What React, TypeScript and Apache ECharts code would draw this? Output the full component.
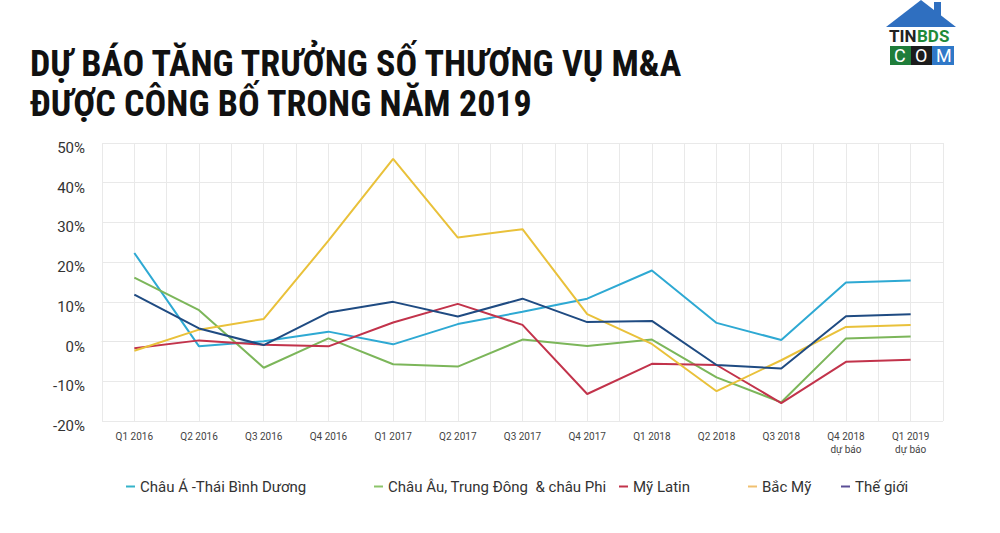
import React, { useEffect, useRef } from "react";
import * as echarts from "echarts";

const categories = [
  "Q1 2016", "Q2 2016", "Q3 2016", "Q4 2016", "Q1 2017", "Q2 2017", "Q3 2017",
  "Q4 2017", "Q1 2018", "Q2 2018", "Q3 2018", "Q4 2018\ndự báo", "Q1 2019\ndự báo",
];
const halfCategories = categories.flatMap((c) => [c + " a", c + " b"]);
const yTicks = [-20, -10, 0, 10, 20, 30, 40, 50];

const asiaPacific = [22.3, -1.2, 0.1, 2.5, -0.7, 4.4, 7.5, 10.8, 17.9, 4.7, 0.4, 14.9, 15.4];
const europeMEA = [16.1, 7.9, -6.6, 0.8, -5.7, -6.3, 0.5, -1.1, 0.5, -9.0, -15.3, 0.8, 1.3];
const latinAmerica = [-1.7, 0.3, -0.8, -1.2, 4.8, 9.5, 4.2, -13.2, -5.6, -5.9, -15.5, -5.1, -4.6];
const northAmerica = [-2.3, 3.0, 5.7, 25.4, 46.0, 26.2, 28.3, 6.9, -0.6, -12.5, -4.7, 3.7, 4.2];
const world = [11.8, 3.3, -0.9, 7.3, 10.0, 6.3, 10.8, 4.9, 5.2, -5.9, -6.8, 6.4, 6.9];

const seriesNames = [
  "Châu Á -Thái Bình Dương",
  "Châu Âu, Trung Đông  & châu Phi",
  "Mỹ Latin",
  "Bắc Mỹ",
  "Thế giới",
];
const seriesData = [asiaPacific, europeMEA, latinAmerica, northAmerica, world];
const lineColors = ["#2ea9d3", "#7cb65a", "#c2334b", "#e9c13a", "#1f4b82"];
const legendColors = ["#35b3c9", "#8cc46a", "#c2334b", "#f0c070", "#5b4e96"];
const legendLeft = [121, 369, 614, 743, 836];

export default function App() {
  const ref = useRef<HTMLDivElement>(null);
  useEffect(() => {
    if (!ref.current) return;
    const chart = echarts.init(ref.current, null, { renderer: "svg" });
    const titleFont = "'Liberation Sans Narrow', 'Roboto Condensed', Roboto, sans-serif";
    chart.setOption({
      animation: false,
      backgroundColor: "#ffffff",
      textStyle: { fontFamily: "Roboto, sans-serif" },
      grid: { left: 102, right: 57, top: 143, bottom: 112, containLabel: false },
      legend: seriesNames.map((n, i) => ({
        data: [{ name: n, itemStyle: { color: legendColors[i] } }],
        left: legendLeft[i],
        top: 474,
        icon: "rect",
        itemWidth: 9,
        itemHeight: 2,
        itemGap: 10,
        textStyle: { fontSize: 15, color: "#333", fontFamily: "Roboto, sans-serif" },
      })),
      xAxis: [
        {
          type: "category",
          data: categories,
          boundaryGap: true,
          axisLine: { show: true, lineStyle: { color: "#e6e6e6" } },
          axisTick: { show: false },
          splitLine: { show: false },
          axisLabel: {
            interval: 0,
            fontSize: 10,
            color: "#444",
            lineHeight: 13,
            margin: 9,
            fontFamily: "'Liberation Sans Narrow', Roboto, sans-serif",
          },
        },
        {
          type: "category",
          data: halfCategories,
          boundaryGap: true,
          position: "top",
          axisLine: { show: false },
          axisTick: { show: false },
          axisLabel: { show: false },
          splitLine: { show: true, interval: 0, lineStyle: { color: "#e9e9e9", width: 1 } },
        },
      ],
      yAxis: {
        type: "value",
        min: yTicks[0],
        max: yTicks[yTicks.length - 1],
        interval: 10,
        axisLine: { show: false },
        axisTick: { show: false },
        splitLine: { show: true, lineStyle: { color: "#e9e9e9", width: 1 } },
        axisLabel: {
          formatter: (v: number) => `${v}%`,
          fontSize: 15,
          color: "#333",
          margin: 17,
          verticalAlign: "top",
          lineHeight: 10,
        },
      },
      series: seriesNames.map((n, i) => ({
        name: n,
        type: "line",
        xAxisIndex: 0,
        data: seriesData[i],
        symbol: "none",
        lineStyle: { color: lineColors[i], width: 2 },
        itemStyle: { color: legendColors[i] },
        z: 2 + i,
      })),
      graphic: [
        {
          type: "text",
          left: 30,
          top: 46,
          style: {
            text: "DỰ BÁO TĂNG TRƯỞNG SỐ THƯƠNG VỤ M&A",
            font: `bold 36px ${titleFont}`,
            fill: "#111",
          },
        },
        {
          type: "text",
          left: 30,
          top: 86,
          style: {
            text: "ĐƯỢC CÔNG BỐ TRONG NĂM 2019",
            font: `bold 36px ${titleFont}`,
            fill: "#111",
          },
        },
        // logo
        {
          type: "group",
          left: 886,
          top: 0,
          children: [
            { type: "polygon", shape: { points: [[0, 27], [35, 0], [70, 27]] }, style: { fill: "#2f6fc0" } },
            { type: "rect", shape: { x: 48, y: 2, width: 7, height: 14 }, style: { fill: "#2f6fc0" } },
            { type: "text", x: 3, y: 27, style: { text: "TIN", font: "bold 17px 'Liberation Sans Narrow', Roboto, sans-serif", lineHeight: 17, fill: "#222" } },
            { type: "text", x: 31, y: 27, style: { text: "BDS", font: "bold 17px 'Liberation Sans Narrow', Roboto, sans-serif", lineHeight: 17, fill: "#1f8a3a" } },
            { type: "rect", shape: { x: 4, y: 46, width: 21, height: 19 }, style: { fill: "#1f7d3a" } },
            { type: "rect", shape: { x: 25, y: 46, width: 21, height: 19 }, style: { fill: "#1c1c1c" } },
            { type: "rect", shape: { x: 46, y: 46, width: 22, height: 19 }, style: { fill: "#2f78c8" } },
            { type: "text", x: 8, y: 47, style: { text: "C", font: "18px Roboto, sans-serif", lineHeight: 17, fill: "#fff" } },
            { type: "text", x: 29, y: 47, style: { text: "O", font: "18px Roboto, sans-serif", lineHeight: 17, fill: "#fff" } },
            { type: "text", x: 50, y: 47, style: { text: "M", font: "18px Roboto, sans-serif", lineHeight: 17, fill: "#fff" } },
          ],
        },
      ],
    });
    return () => chart.dispose();
  }, []);
  return <div ref={ref} style={{ position: "absolute", left: 0, top: 0, width: 1000, height: 533 }} />;
}
